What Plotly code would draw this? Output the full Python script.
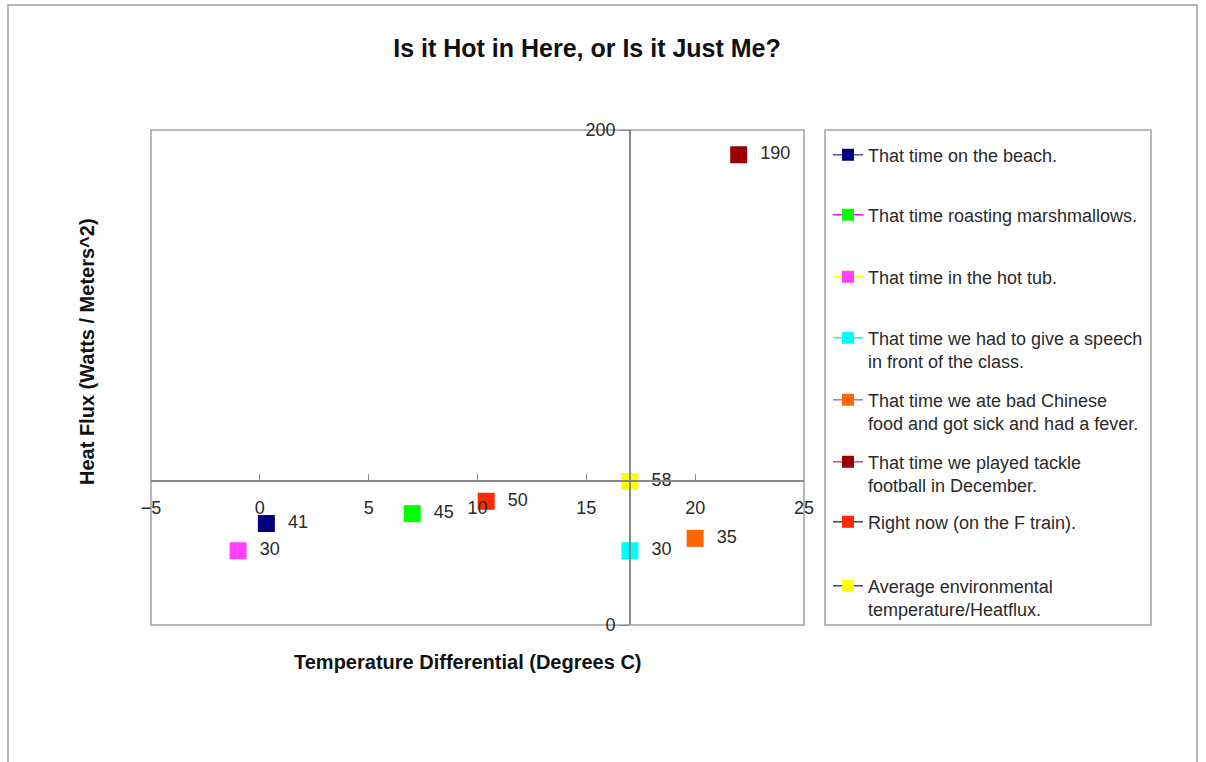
import plotly.graph_objects as go

# ---------------- data ----------------
series_names = [
    "That time on the beach.",
    "That time roasting marshmallows.",
    "That time in the hot tub.",
    "That time we had to give a speech<br>in front of the class.",
    "That time we ate bad Chinese<br>food and got sick and had a fever.",
    "That time we played tackle<br>football in December.",
    "Right now (on the F train).",
    "Average environmental<br>temperature/Heatflux.",
]
temp_diff = [0.3, 7, -1, 17, 20, 22, 10.4, 17]
heat_flux = [41, 45, 30, 30, 35, 190, 50, 58]
marker_colors = ["#000080", "#00FF00", "#FF40FF", "#00FFFF",
                 "#FF6600", "#990000", "#FF2A00", "#FFFF00"]
legend_line_colors = ["#5050A8", "#FF00FF", "#FFFF00", "#00FFFF",
                      "#B070C0", "#B06060", "#404848", "#2040FF"]
x_ticks = [-5, 0, 5, 10, 15, 20, 25]
y_ticks = [0, 200]
x_range = [-5, 25]
y_range = [0, 200]

# ---------------- layout constants ----------------
W, H = 1206, 762
PL, PR, PT, PB = 151, 804, 130, 625          # plot area in px
pw, ph = PR - PL, PB - PT
FONT = "Liberation Sans, Arial, sans-serif"

def px_x(p):
    return (p - PL) / pw

def px_y(p):
    return (PB - p) / ph

# axes cross at the "average" point (last series)
cross_x = temp_diff[-1]
cross_y = heat_flux[-1]

legend_first_line = [155, 215, 277, 338, 400, 462, 522, 586]
LEG_OFF = 18.5

fig = go.Figure()
legend_layouts = {}
for i, name in enumerate(series_names):
    lname = "legend" if i == 0 else f"legend{i + 1}"
    # plotted point with its data label
    fig.add_trace(go.Scatter(
        x=[temp_diff[i]], y=[heat_flux[i]],
        mode="markers+text",
        name=name,
        text=[f"\u00a0\u00a0{heat_flux[i]}"],
        textposition="middle right",
        textfont=dict(family=FONT, size=18, color="#2a2a2a"),
        marker=dict(symbol="square", size=17, color=marker_colors[i],
                    line=dict(width=0)),
        showlegend=False,
        legendgroup=f"s{i}",
        cliponaxis=False,
    ))
    # legend key (line + small square), no data points of its own
    fig.add_trace(go.Scatter(
        x=[None], y=[None],
        mode="lines+markers",
        name=name,
        marker=dict(symbol="square", size=12, color=marker_colors[i],
                    line=dict(width=0)),
        line=dict(color=legend_line_colors[i], width=1.5),
        legend=lname,
        legendgroup=f"s{i}",
        hoverinfo="skip",
    ))
    legend_layouts[lname] = dict(
        x=px_x(828), xanchor="left",
        y=px_y(legend_first_line[i] - LEG_OFF), yanchor="top",
        bgcolor="rgba(0,0,0,0)", borderwidth=0,
        font=dict(family=FONT, size=18, color="#2a2a2a"),
        valign="top",
    )

shapes = [
    # plot-area frame
    dict(type="rect", xref="x domain", yref="y domain", x0=0, x1=1, y0=0, y1=1,
         line=dict(color="#A0A0A0", width=1.5), layer="below"),
    # legend box
    dict(type="rect", xref="paper", yref="paper",
         x0=px_x(825), x1=px_x(1151), y0=px_y(625), y1=px_y(130),
         line=dict(color="#A0A0A0", width=1.5)),
    # outer chart border
    dict(type="rect", xref="paper", yref="paper",
         x0=px_x(8), x1=px_x(1197), y0=px_y(775), y1=px_y(5),
         line=dict(color="#A0A0A0", width=1.5)),
]

annotations = [
    dict(text="<b>Temperature Differential (Degrees C)</b>",
         xref="paper", yref="paper", x=px_x(468), y=px_y(662),
         xanchor="center", yanchor="middle", showarrow=False,
         font=dict(family=FONT, size=20, color="#111")),
    dict(text="<b>Heat Flux (Watts / Meters^2)</b>",
         xref="paper", yref="paper", x=px_x(87), y=px_y(352),
         xanchor="center", yanchor="middle", showarrow=False, textangle=-90,
         font=dict(family=FONT, size=20, color="#111")),
]

fig.update_layout(
    width=W, height=H, autosize=False,
    margin=dict(l=PL, r=W - PR, t=PT, b=H - PB, pad=0),
    paper_bgcolor="white", plot_bgcolor="white",
    title=dict(text="<b>Is it Hot in Here, or Is it Just Me?</b>",
               xref="container", yref="container",
               x=587 / W, y=1 - 48 / H, xanchor="center", yanchor="middle",
               font=dict(family=FONT, size=25, color="#111")),
    xaxis=dict(range=x_range, anchor="free",
               position=(cross_y - y_range[0]) / (y_range[1] - y_range[0]),
               tickvals=x_ticks, ticks="inside", ticklen=7, tickcolor="#888",
               showline=True, linecolor="#888", linewidth=1.5,
               showgrid=False, zeroline=False, ticklabelstandoff=10,
               tickfont=dict(family=FONT, size=18, color="#2a2a2a")),
    yaxis=dict(range=y_range, anchor="free",
               position=(cross_x - x_range[0]) / (x_range[1] - x_range[0]),
               tickvals=y_ticks, ticks="outside", ticklen=10, tickcolor="#888",
               showline=True, linecolor="#888", linewidth=1.5,
               showgrid=False, zeroline=False,
               tickfont=dict(family=FONT, size=18, color="#2a2a2a")),
    shapes=shapes,
    annotations=annotations,
    showlegend=True,
    **legend_layouts,
)

fig.write_html("out.html", config={"displayModeBar": False},
               post_script="document.body.style.margin='0';")
